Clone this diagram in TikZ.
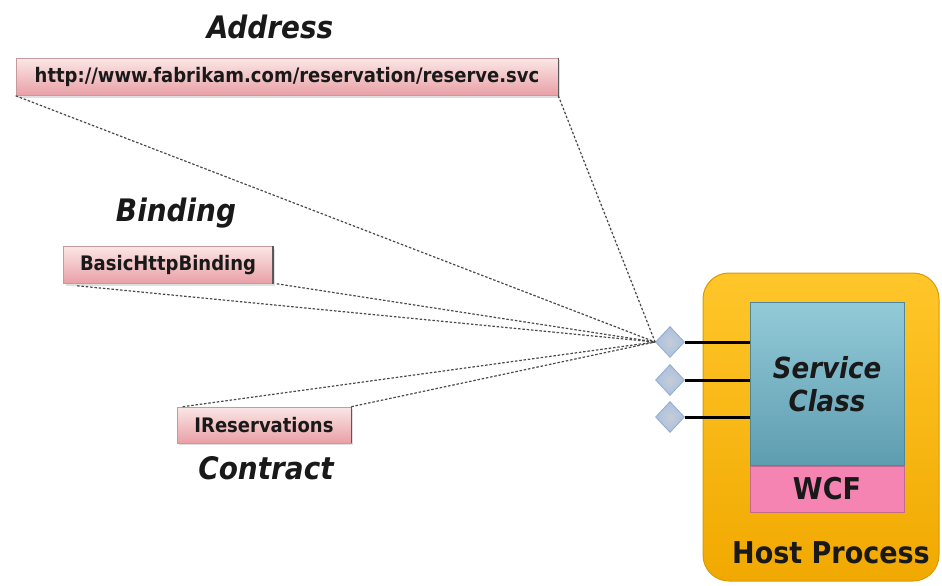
\documentclass[tikz,border=0pt]{standalone}
\usepackage{fontspec}
\setmainfont{DejaVu Sans Condensed}
\usetikzlibrary{shapes.geometric,shadows,calc}
\definecolor{pinktop}{HTML}{FBE6E6}
\definecolor{pinkbot}{HTML}{E8A0A5}
\definecolor{pinkedge}{HTML}{C49A9C}
\definecolor{hosttop}{HTML}{FFC62A}
\definecolor{hostbot}{HTML}{F1A900}
\definecolor{hostedge}{HTML}{D99B00}
\definecolor{svctop}{HTML}{93CAD8}
\definecolor{svcbot}{HTML}{5E9DB0}
\definecolor{svcedge}{HTML}{4F8798}
\definecolor{wcfpink}{HTML}{F584B3}
\definecolor{diafill}{HTML}{A9C0E0}
\definecolor{diain}{HTML}{C6CCD6}
\definecolor{diaedge}{HTML}{93ACD2}
\definecolor{dashcol}{HTML}{4A4A4A}
\tikzset{
  pinkbox/.style={rectangle, draw=pinkedge, line width=0.6pt, top color=pinktop, bottom color=pinkbot,
    drop shadow={opacity=0.25, shadow xshift=2pt, shadow yshift=-2pt},
    inner sep=0pt, font=\fontsize{20}{24}\selectfont\bfseries, text=black!90},
  boxedge/.style={draw=black!65, line width=1.4pt},
  biglabel/.style={font=\fontsize{31}{36}\selectfont\bfseries\itshape, text=black!90},
  hostbox/.style={rectangle, rounded corners=26pt, draw=hostedge, line width=1pt, top color=hosttop, bottom color=hostbot},
  svcbox/.style={rectangle, draw=svcedge, line width=0.6pt, top color=svctop, bottom color=svcbot,
    font=\fontsize{29}{35}\selectfont\bfseries\itshape, text=black!90, align=center},
  wcfbox/.style={rectangle, fill=wcfpink, draw=wcfpink!80!black, line width=0.4pt, font=\fontsize{30}{34}\selectfont\bfseries, text=black!90},
  diam/.style={diamond, draw=diaedge, line width=0.8pt, inner color=diain, outer color=diafill, minimum width=29pt, minimum height=31pt, inner sep=0pt},
  conn/.style={draw=dashcol, dash pattern=on 2.5pt off 1.8pt, line width=1.2pt},
  port/.style={draw=black, line width=3pt}
}
\begin{document}
\begin{tikzpicture}[x=1pt,y=-1pt]
\useasboundingbox (0,0) rectangle (942,586);
% host
\node[hostbox, minimum width=236pt, minimum height=308pt] (host) at (821,427) {};
\node[svcbox, minimum width=154pt, minimum height=163pt] (svc) at (827,384) {Service\\[-2pt]Class};
\node[wcfbox, minimum width=154pt, minimum height=46pt] (wcf) at (827,489) {WCF};
\node[font=\fontsize{30}{34}\selectfont\bfseries, text=black!90] (hostlbl) at (831,553) {Host Process};
% diamonds
\node[diam] (d1) at (670,342) {};
\node[diam] (d2) at (670,380) {};
\node[diam] (d3) at (670,417) {};
\draw[port] (d1.east) -- (svc.west |- d1.east);
\draw[port] (d2.east) -- (svc.west |- d2.east);
\draw[port] (d3.east) -- (svc.west |- d3.east);
% labels and boxes
\node[biglabel] (addrlbl) at (270,27) {Address};
\node[pinkbox, minimum width=542pt, minimum height=37pt] (url) at (287,77) {http://www.fabrikam.com/reservation/reserve.svc};
\draw[boxedge] (url.north east) -- (url.south east);
\node[biglabel] (bindlbl) at (176,213) {Binding};
\node[pinkbox, minimum width=209pt, minimum height=37pt] (httpb) at (168,265) {BasicHttpBinding};
\draw[boxedge] (httpb.north east) -- (httpb.south east);
\node[pinkbox, minimum width=174pt, minimum height=36pt] (ireserv) at (264,425) {IReservations};
\draw[boxedge] (ireserv.north east) -- (ireserv.south east);
\node[biglabel] (contrlbl) at (266,468) {Contract};
% dashed connectors
\draw[conn] (url.south west) -- (d1.west);
\draw[conn] (url.south east) -- (d1.west);
\draw[conn] ($(httpb.south west)+(14,2)$) -- (d1.west);
\draw[conn] ($(httpb.south east)+(4,0)$) -- (d1.west);
\draw[conn] ($(ireserv.north west)+(6,0)$) -- (d1.west);
\draw[conn] (ireserv.north east) -- (d1.west);
\end{tikzpicture}
\end{document}
